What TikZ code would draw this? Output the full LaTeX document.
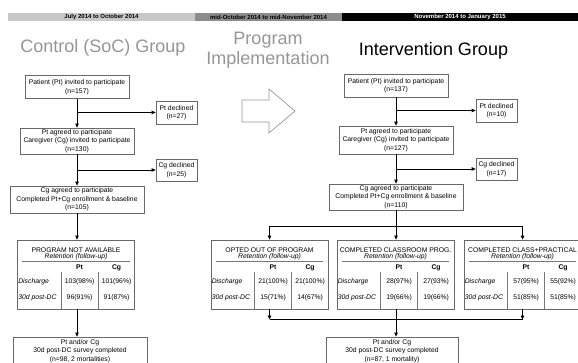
\documentclass[tikz,border=0pt]{standalone}
\usepackage{fontspec}
\setmainfont{Liberation Sans}
\usetikzlibrary{arrows.meta,calc}
\definecolor{bordergray}{RGB}{105,105,105}
\definecolor{rulegray}{RGB}{120,120,120}
\definecolor{titlegray}{RGB}{150,150,150}
\definecolor{barlight}{RGB}{200,200,200}
\definecolor{barmid}{RGB}{140,140,140}
\newcommand\bxfont{\fontsize{6.8}{8.5}\selectfont}
% #1 name, #2 centre x, #3 title, #4 Pt discharge, #5 Cg discharge, #6 Pt 30d, #7 Cg 30d
\newcommand\rettable[7]{%
  \node[tblbox] (#1) at (#2,274.5) {};
  \node[celltxt] at ($(#1.north)+(0,10.5)$) {#3};
  \node[celltxt,font=\bxfont\itshape] at ($(#1.north)+(0,17.5)$) {Retention (follow-up)};
  \draw[tblrule] ($(#1.north west)+(5,21.5)$) -- ($(#1.north east)+(-5,21.5)$);
  \draw[tblrule] ($(#1.north west)+(44,32)$) -- ($(#1.south west)+(44,0)$);
  \draw[tblrule] ($(#1.north west)+(81,32)$) -- ($(#1.south west)+(81,0)$);
  \node[celltxt,font=\bxfont\bfseries] at ($(#1.north west)+(62.5,28)$) {Pt};
  \node[celltxt,font=\bxfont\bfseries] at ($(#1.north west)+(99.5,28)$) {Cg};
  \node[celltxt,anchor=west,font=\bxfont\itshape] at ($(#1.north west)+(1,42)$) {Discharge};
  \node[celltxt,anchor=west,font=\bxfont\itshape] at ($(#1.north west)+(1,58)$) {30d post-DC};
  \node[celltxt] at ($(#1.north west)+(62.5,42)$) {#4};
  \node[celltxt] at ($(#1.north west)+(99.5,42)$) {#5};
  \node[celltxt] at ($(#1.north west)+(62.5,58)$) {#6};
  \node[celltxt] at ($(#1.north west)+(99.5,58)$) {#7};
}
\begin{document}
\begin{tikzpicture}[x=1pt,y=-1pt,
  box/.style={draw=bordergray,line width=0.8pt,fill=white,align=center,
    font=\bxfont,inner sep=0pt,text=black},
  tblbox/.style={draw=bordergray,line width=0.8pt,minimum width=117pt,
    minimum height=69pt,inner sep=0pt},
  celltxt/.style={font=\bxfont,inner sep=0pt},
  tblrule/.style={draw=rulegray,line width=0.6pt},
  arr/.style={draw=black,line width=0.9pt,-{Triangle[length=4pt,width=3.6pt]}},
  plain/.style={draw=black,line width=0.9pt},
  bigtitle/.style={font=\fontsize{18}{20}\selectfont,inner sep=0pt},
  bartxt/.style={font=\fontsize{6}{7}\selectfont\bfseries,inner sep=0pt}
]
\useasboundingbox (0,0) rectangle (578,363);

% ---- time banner ----
\fill[barlight] (8,13) rectangle (195,21);
\fill[barmid] (195,13) rectangle (342,21);
\fill[black] (342,13) rectangle (578,21);
\node[bartxt] (b1) at (101.5,17) {July 2014 to October 2014};
\node[bartxt] (b2) at (268.5,17) {mid-October 2014 to mid-November 2014};
\node[bartxt,text=white] (b3) at (460,17) {November 2014 to January 2015};

% ---- titles ----
\node[bigtitle,text=titlegray,anchor=base] (tc) at (103,53) {Control (SoC) Group};
\node[bigtitle,text=titlegray,anchor=base] (tp1) at (268,45) {Program};
\node[bigtitle,text=titlegray,anchor=base] (tp2) at (268,65) {Implementation};
\node[bigtitle,text=black,anchor=base] (ti) at (433.5,56) {Intervention Group};

% ---- hollow arrow ----
\draw[titlegray,line width=0.7pt,line join=miter]
  (242,100) -- (269,100) -- (269,89) -- (295,111) -- (269,133) -- (269,122) -- (242,122) -- cycle;

% ---- control column ----
\node[box,minimum width=104pt,minimum height=23pt] (c1) at (77,87)
  {Patient (Pt) invited to participate\\(n=157)};
\node[box,minimum width=41pt,minimum height=23pt] (cpd) at (176.5,112.5)
  {Pt declined\\(n=27)};
\node[box,minimum width=114pt,minimum height=26pt] (c2) at (77,141)
  {Pt agreed to participate\\Caregiver (Cg) invited to participate\\(n=130)};
\node[box,minimum width=41pt,minimum height=22pt] (ccd) at (176.5,170)
  {Cg declined\\(n=25)};
\node[box,minimum width=134pt,minimum height=27pt] (c3) at (77,199.5)
  {Cg agreed to participate\\Completed Pt+Cg enrollment \& baseline\\(n=105)};
\rettable{ctab}{76}{PROGRAM NOT AVAILABLE}{103(98\%)}{101(96\%)}{96(91\%)}{91(87\%)}
\node[box,minimum width=134pt,minimum height=28pt] (cfin) at (80,351)
  {Pt and/or Cg\\30d post-DC survey completed\\(n=98, 2 mortalities)};

\draw[arr] (c1.south) -- (c2.north);
\coordinate (cb1) at (c1.south |- cpd.west);
\draw[arr] (cb1) -- (cpd.west);
\draw[arr] (c2.south) -- (c3.north);
\coordinate (cb2) at (c2.south |- ccd.west);
\draw[arr] (cb2) -- (ccd.west);
\draw[arr] (c3.south) -- (c3.south |- ctab.north);
\draw[arr] (c3.south |- ctab.south) -- (c3.south |- cfin.north);

% ---- intervention column ----
\node[box,minimum width=104pt,minimum height=23pt] (i1) at (396,85.5)
  {Patient (Pt) invited to participate\\(n=137)};
\node[box,minimum width=41pt,minimum height=23pt] (ipd) at (496.5,110.5)
  {Pt declined\\(n=10)};
\node[box,minimum width=114pt,minimum height=28pt] (i2) at (396,140)
  {Pt agreed to participate\\Caregiver (Cg) invited to participate\\(n=127)};
\node[box,minimum width=41pt,minimum height=22pt] (icd) at (496.5,169)
  {Cg declined\\(n=17)};
\node[box,minimum width=134pt,minimum height=26pt] (i3) at (396,197)
  {Cg agreed to participate\\Completed Pt+Cg enrollment \& baseline\\(n=110)};
\rettable{topt}{269.5}{OPTED OUT OF PROGRAM}{21(100\%)}{21(100\%)}{15(71\%)}{14(67\%)}
\rettable{tcls}{395.5}{COMPLETED CLASSROOM PROG.}{28(97\%)}{27(93\%)}{19(66\%)}{19(66\%)}
\rettable{tprc}{522.5}{COMPLETED CLASS+PRACTICAL}{57(95\%)}{55(92\%)}{51(85\%)}{51(85\%)}
\node[box,minimum width=132pt,minimum height=28pt] (ifin) at (392,351)
  {Pt and/or Cg\\30d post-DC survey completed\\(n=87, 1 mortality)};

\draw[arr] (i1.south) -- (i2.north);
\coordinate (ib1) at (i1.south |- ipd.west);
\draw[arr] (ib1) -- (ipd.west);
\draw[arr] (i2.south) -- (i3.north);
\coordinate (ib2) at (i2.south |- icd.west);
\draw[arr] (ib2) -- (icd.west);

% fan-out
\coordinate (foL) at (topt.north |- 0,226);
\coordinate (foR) at (tprc.north |- 0,226);
\draw[plain] (foL) -- (foR);
\draw[arr] (i3.south) -- (i3.south |- tcls.north);
\draw[arr] (foL) -- (topt.north);
\draw[arr] (foR) -- (tprc.north);

% fan-in
\coordinate (fiL) at (topt.south |- 0,319.5);
\coordinate (fiR) at (tprc.south |- 0,319.5);
\draw[plain] (fiL) -- (fiR);
\draw[arr] (topt.south) -- (fiL);
\draw[arr] (tprc.south) -- (fiR);
\draw[arr] (i3.south |- tcls.south) -- (i3.south |- ifin.north);
\end{tikzpicture}
\end{document}
